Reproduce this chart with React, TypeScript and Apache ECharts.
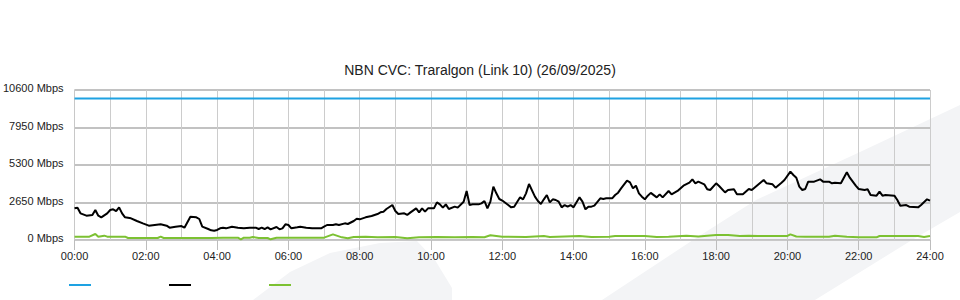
import React, { useEffect, useRef } from 'react';
import * as echarts from 'echarts';

const chartTitle = 'NBN CVC: Traralgon (Link 10) (26/09/2025)';
const yTicks = [0, 2650, 5300, 7950, 10600];
const xTickLabels = ['00:00', '02:00', '04:00', '06:00', '08:00', '10:00', '12:00', '14:00', '16:00', '18:00', '20:00', '22:00', '24:00'];

// minutes since midnight
const capacityTimes = [0, 1440];
const capacityMbps = [10000, 10000];

const trafficTimes = [0,5,10,20,30,35,40,45,55,60,65,70,75,80,85,95,105,115,125,135,145,155,160,170,180,185,195,205,210,215,225,230,235,240,245,250,255,265,275,285,295,305,310,315,320,325,330,340,345,350,355,360,365,375,380,390,400,405,415,420,425,435,440,445,455,460,470,475,480,490,500,510,515,520,525,535,540,545,555,560,565,575,580,585,590,595,605,610,615,620,625,630,640,645,655,660,665,670,680,685,690,695,700,705,710,715,720,730,735,740,750,755,760,765,775,780,785,790,795,800,805,810,815,820,825,830,835,840,850,855,860,865,870,875,885,890,895,905,910,915,920,930,935,940,945,950,955,960,965,970,980,985,990,1000,1005,1015,1025,1035,1040,1045,1050,1060,1065,1070,1080,1085,1095,1100,1110,1115,1125,1135,1140,1150,1160,1165,1175,1180,1190,1195,1205,1210,1215,1220,1225,1230,1235,1245,1255,1260,1270,1275,1280,1290,1300,1305,1315,1320,1330,1335,1340,1350,1355,1360,1365,1380,1385,1390,1400,1405,1420,1425,1435,1440];
const trafficMbps = [2240,2283,1885,1720,1767,2120,1720,1601,1885,2120,2167,2049,2308,1885,1601,1531,1343,1177,1013,1060,1107,1013,872,942,989,872,1648,1601,1484,942,777,683,660,707,824,872,824,942,872,824,872,872,777,872,777,895,754,919,754,824,1107,1060,824,895,942,872,824,824,824,942,1060,1060,1107,1060,1177,1131,1343,1500,1460,1601,1696,1837,1955,2002,2190,2473,2049,1837,1885,1767,1932,2237,1955,2237,2002,2237,2237,2661,2520,2285,2520,2190,2355,2285,2708,3463,2473,2520,2520,2590,2756,2237,2708,3769,3298,2897,2790,2473,2308,2355,3015,2874,3298,3957,3062,2756,2544,2874,3180,2661,2874,2827,2708,2308,2473,2355,2473,2308,3015,2708,2167,2355,2355,2426,2944,2897,2944,2944,3180,3345,3651,4193,4075,3651,3839,3298,3062,2874,3133,3330,3015,3227,3015,3463,3227,3463,3839,4052,4287,4005,4123,3934,3580,3533,4005,3815,3368,3533,3580,3227,3227,3604,3533,3887,4240,4005,3934,3698,4052,4240,4829,4594,4400,3769,3533,3604,4123,4123,4287,4123,4123,4005,4052,4005,4782,4405,3839,3604,3533,3580,3180,3133,3415,3133,3180,3133,2827,2426,2473,2355,2308,2473,2874,2779];

const lowTimes = [0,25,35,40,50,55,85,90,140,145,150,230,250,275,280,285,295,300,310,325,330,340,420,435,450,460,470,490,510,540,560,580,610,640,670,690,700,720,760,790,800,850,870,900,910,960,980,1000,1030,1050,1080,1100,1120,1135,1150,1200,1205,1215,1230,1270,1280,1300,1320,1350,1355,1420,1430,1440];
const lowMbps = [235,235,424,235,306,235,235,141,141,235,141,141,165,165,47,165,165,212,141,141,47,165,165,400,188,118,212,235,200,212,118,200,212,200,212,200,330,235,212,283,212,283,212,230,283,283,212,235,306,250,353,353,283,306,283,283,400,250,235,235,306,235,188,188,283,283,212,283];

const seriesNames = ['Capacity', 'Traffic', 'Low'];
const seriesColors = ['#1ea2e2', '#000000', '#7cc132'];

const FONT = '"Liberation Sans", Arial, Helvetica, sans-serif';

function pairs(t: number[], v: number[]) {
  return t.map((x, i) => [x, v[i]]);
}

export default function App() {
  const ref = useRef<HTMLDivElement>(null);
  useEffect(() => {
    if (!ref.current) return;
    const chart = echarts.init(ref.current, undefined, { renderer: 'svg' });
    const wm = '#f3f4f6';
    chart.setOption({
      animation: false,
      backgroundColor: '#ffffff',
      textStyle: { fontFamily: FONT },
      title: {
        text: chartTitle,
        left: 'center',
        top: 58,
        textStyle: { fontSize: 14, fontWeight: 'normal', color: '#222', fontFamily: FONT },
      },
      grid: { left: 70, right: 30, top: 90, bottom: 60, containLabel: false },
      xAxis: {
        type: 'value',
        min: 0,
        max: 1440,
        interval: 120,
        axisLine: { show: true, lineStyle: { color: '#c8c8c8', width: 1 } },
        axisTick: { show: true, length: 10, lineStyle: { color: '#bdbdbd' } },
        axisLabel: {
          color: '#222',
          fontSize: 11,
          fontFamily: FONT,
          margin: 10,
          formatter: (v: number) => xTickLabels[Math.round(v / 120)] ?? '',
        },
        splitLine: { show: true, lineStyle: { color: '#cccccc', width: 1 } },
        minorTick: { show: false, splitNumber: 2 },
        minorSplitLine: { show: true, lineStyle: { color: '#cccccc', width: 1 } },
      },
      yAxis: {
        type: 'value',
        min: yTicks[0],
        max: yTicks[yTicks.length - 1],
        interval: yTicks[1] - yTicks[0],
        axisLine: { show: true, lineStyle: { color: '#c8c8c8', width: 1 } },
        axisTick: { show: false },
        axisLabel: {
          color: '#222',
          fontSize: 11,
          fontFamily: FONT,
          margin: 11,
          verticalAlign: 'bottom',
          lineHeight: 4,
          formatter: (v: number) => `${v} Mbps`,
        },
        splitLine: { show: true, lineStyle: { color: '#c2c2c2', width: 2 } },
      },
      graphic: [
        {
          type: 'polygon',
          z: -10,
          silent: true,
          shape: { points: [[253, 300], [290, 272], [330, 253], [380, 243], [417, 241], [435, 260], [452, 288], [452, 300]] },
          style: { fill: wm },
        },
        {
          type: 'polygon',
          z: -10,
          silent: true,
          shape: { points: [[602, 300], [693, 240], [756, 200], [860, 152], [960, 105], [960, 212], [912, 240], [815, 300]] },
          style: { fill: wm },
        },
        ...seriesColors.map((c, i) => ({
          type: 'line',
          z: 10,
          silent: true,
          shape: { x1: 69 + i * 100, y1: 285, x2: 91 + i * 100, y2: 285 },
          style: { stroke: c, lineWidth: 2 },
        })),
      ],
      series: [
        {
          name: seriesNames[0],
          type: 'line',
          data: pairs(capacityTimes, capacityMbps),
          showSymbol: false,
          symbol: 'none',
          lineStyle: { color: seriesColors[0], width: 2 },
          z: 3,
        },
        {
          name: seriesNames[1],
          type: 'line',
          data: pairs(trafficTimes, trafficMbps),
          showSymbol: false,
          symbol: 'none',
          lineStyle: { color: seriesColors[1], width: 2 },
          z: 4,
        },
        {
          name: seriesNames[2],
          type: 'line',
          data: pairs(lowTimes, lowMbps),
          showSymbol: false,
          symbol: 'none',
          lineStyle: { color: seriesColors[2], width: 2 },
          z: 5,
        },
      ],
    });
    return () => chart.dispose();
  }, []);
  return <div ref={ref} style={{ position: 'fixed', left: 0, top: 0, width: 960, height: 300 }} />;
}
